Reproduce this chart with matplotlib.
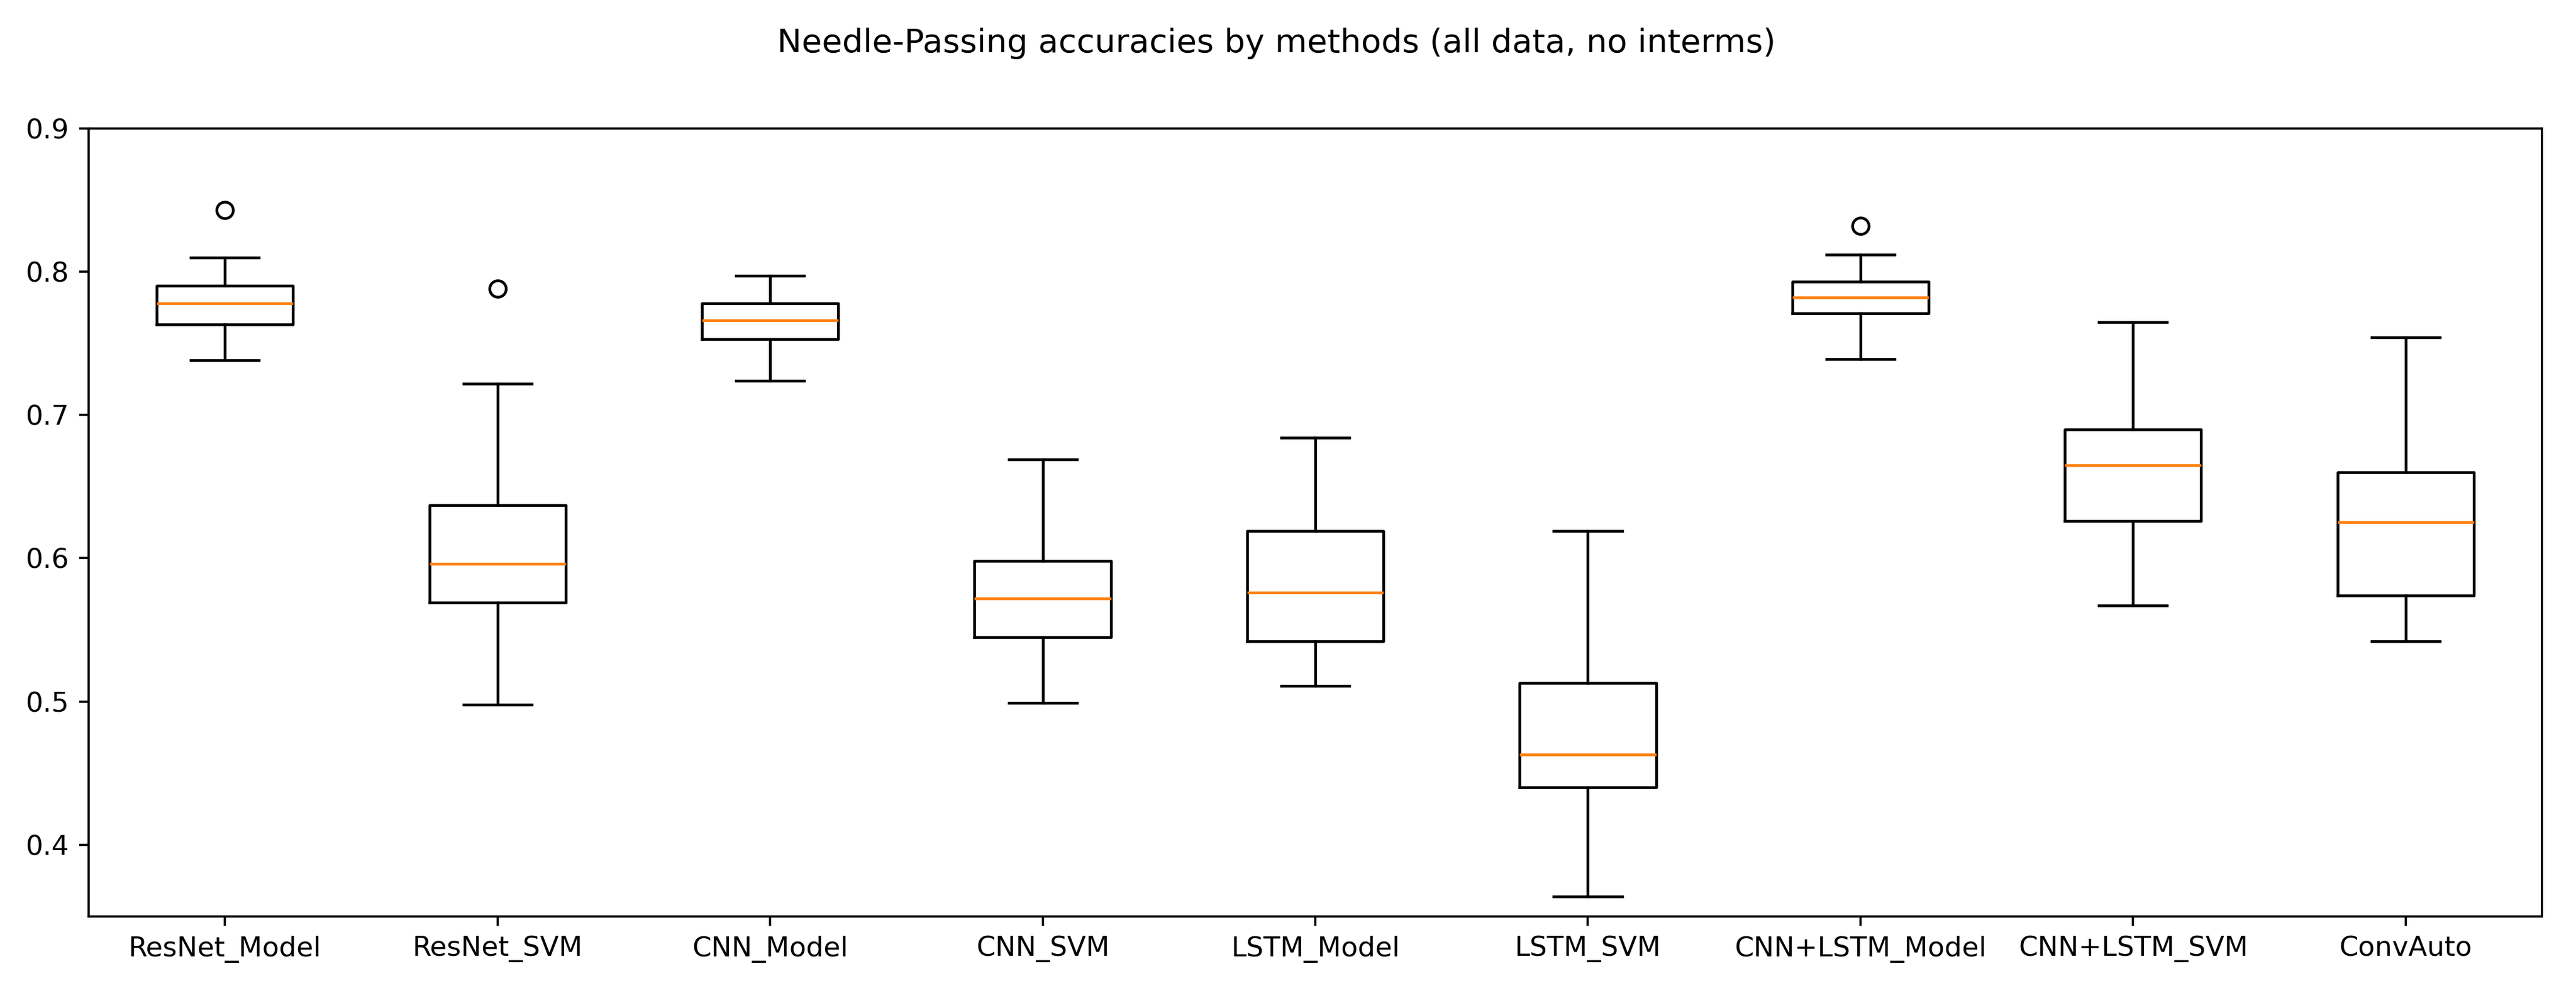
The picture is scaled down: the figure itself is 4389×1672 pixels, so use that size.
import numpy as np
import matplotlib
matplotlib.use("Agg")
import matplotlib.pyplot as plt

methods = ['ResNet_Model', 'ResNet_SVM', 'CNN_Model', 'CNN_SVM', 'LSTM_Model',
           'LSTM_SVM', 'CNN+LSTM_Model', 'CNN+LSTM_SVM', 'ConvAuto']

# box statistics
whis_lo = [0.738, 0.498, 0.724, 0.499, 0.511, 0.364, 0.739, 0.567, 0.542]
q1 = [0.763, 0.569, 0.753, 0.545, 0.542, 0.440, 0.771, 0.626, 0.574]
med = [0.778, 0.596, 0.766, 0.572, 0.576, 0.463, 0.782, 0.665, 0.625]
q3 = [0.790, 0.637, 0.778, 0.598, 0.619, 0.513, 0.793, 0.690, 0.660]
whis_hi = [0.810, 0.722, 0.797, 0.669, 0.684, 0.619, 0.812, 0.765, 0.754]
outliers = [[0.843], [0.788], [], [], [], [], [0.832], [], []]

stats = []
for i in range(len(methods)):
    stats.append({
        'label': methods[i],
        'whislo': whis_lo[i],
        'q1': q1[i],
        'med': med[i],
        'q3': q3[i],
        'whishi': whis_hi[i],
        'fliers': np.array(outliers[i]),
    })

DPI = 336
fig = plt.figure(figsize=(4389 / DPI, 1672 / DPI), dpi=DPI)
ax = fig.add_axes([0.0344, 0.0658, 0.9524, 0.8033])

ax.bxp(stats, showfliers=True)
ax.set_xlim(0.5, len(methods) + 0.5)
ax.set_ylim(0.35, 0.9)

fig.suptitle('Needle-Passing accuracies by methods (all data, no interms)',
             x=0.4955, y=0.972)

fig.savefig('out.png', dpi=DPI)
